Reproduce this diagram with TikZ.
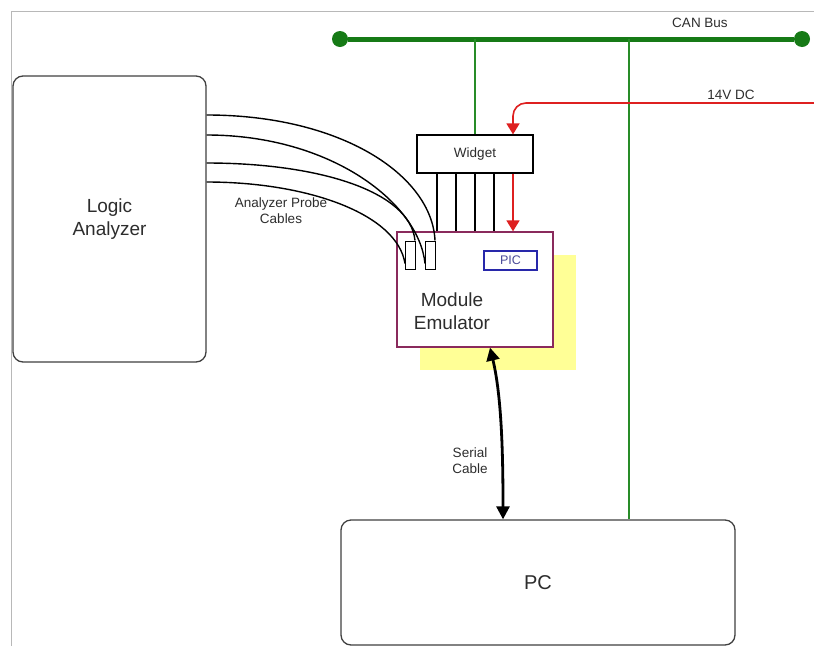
\documentclass[tikz,border=0pt]{standalone}
\usepackage{fontspec}
\setmainfont{Liberation Sans}
\usetikzlibrary{arrows.meta}
\definecolor{busgreen}{RGB}{22,122,22}
\definecolor{tapgreen}{RGB}{40,140,40}
\definecolor{pwrred}{RGB}{222,32,32}
\definecolor{emuedge}{RGB}{138,42,92}
\definecolor{shadowyellow}{RGB}{255,255,150}
\definecolor{picblue}{RGB}{40,40,170}
\definecolor{txtgray}{RGB}{45,45,45}

\begin{document}
\begin{tikzpicture}[x=1pt,y=-1pt,
		bigtext/.style={font=\fontsize{19}{23}\selectfont,text=txtgray,align=center},
		smalltext/.style={font=\fontsize{13.5}{16}\selectfont,text=txtgray,align=center},
		unit/.style={draw=black!75,line width=1.3pt,rounded corners=10pt,fill=white},
		plug/.style={draw=black,line width=1pt,fill=white,minimum width=10pt,minimum height=28pt,inner sep=0pt},
		cable/.style={line width=1.4pt},
		bus/.style={busgreen,line width=5pt},
		tap/.style={tapgreen,line width=1.6pt},
		dot/.style={circle,fill=busgreen,minimum size=16pt,inner sep=0pt},
		pwr/.style={pwrred,line width=1.6pt,-{Triangle[length=11pt,width=13pt]}},
		serial/.style={line width=2.8pt,{Triangle[length=13pt,width=13pt]}-{Triangle[length=13pt,width=13pt]}}]
		\clip (0,0) rectangle (814,646);
		\draw[black!28,line width=1pt] (11,646) -- (11,11) -- (814,11);
		\node[unit,minimum width=193pt,minimum height=286pt] (LA) at (109.5,219) {};
		\node[bigtext] (LT) at (LA) {Logic\\Analyzer};
		\fill[shadowyellow] (420,255) rectangle (576,370);
		\node[draw=emuedge,line width=1.3pt,fill=white,minimum width=156pt,minimum height=115pt] (ME) at (475,289.5) {};
		\node[bigtext] (MT) at (452,311) {Module\\Emulator};
		\node[draw=picblue,line width=1.2pt,minimum width=53pt,minimum height=19pt,inner sep=0pt,font=\fontsize{12.5}{14}\selectfont,text=picblue!60!gray] (PIC) at (510.5,260.5) {PIC};
		\node[draw=black,line width=1.2pt,fill=white,minimum width=116pt,minimum height=38pt,smalltext] (W) at (475,154) {Widget};
		\node[plug] (P1) at (410.5,255) {};
		\node[plug] (P2) at (430.5,255) {};
		\node[unit,minimum width=394pt,minimum height=125pt] (PC) at (538,582.5) {};
		\node[bigtext,font=\fontsize{20}{24}\selectfont] (PT) at (PC) {PC};
		\node[dot] (C1) at (340,39) {};
		\node[dot] (C2) at (802,39) {};
		\coordinate (T) at (629,39);
		\coordinate (V) at (814,103);
		\node[smalltext] (CB) at (700,23) {CAN Bus};
		\node[smalltext,anchor=south,inner sep=1pt] (DC) at (731,101) {14V DC};
		\node[smalltext] (AP) at (281,211) {Analyzer Probe\\Cables};
		\node[smalltext] (SC) at (470,461) {Serial\\Cable};
		\draw[bus] (C1) -- (C2);
		\draw[tap] (W.north |- C1) -- (W.north);
		\draw[tap] (T) -- (T |- PC.north);
		\draw[pwr,rounded corners=13pt] (V) -| ([xshift=38pt]W.north);
		\foreach \s in {-38,-19,0,19}
			\draw[line width=1.2pt] ([xshift=\s pt]W.south) -- ([xshift=\s pt]ME.north);
		\draw[pwr] ([xshift=38pt]W.south) -- ([xshift=38pt]ME.north);
		\draw[cable] ([yshift=104pt]LA.east) .. controls +(135,0) and +(-3,-65) .. ([xshift=-1pt]P2.north east);
		\draw[cable] ([yshift=84pt]LA.east) .. controls +(125,0) and +(-6,-60) .. ([yshift=6pt]P2.south west);
		\draw[cable] ([yshift=56pt]LA.east) .. controls +(110,0) and +(-5,-50) .. ([xshift=-1pt]P1.north east);
		\draw[cable] ([yshift=37pt]LA.east) .. controls +(100,0) and +(-8,-50) .. ([yshift=6pt]P1.south west);
		\draw[serial] ([xshift=15pt]ME.south) .. controls +(12,50) and +(0,-60) .. ([xshift=-35pt]PC.north);
\end{tikzpicture}
\end{document}
